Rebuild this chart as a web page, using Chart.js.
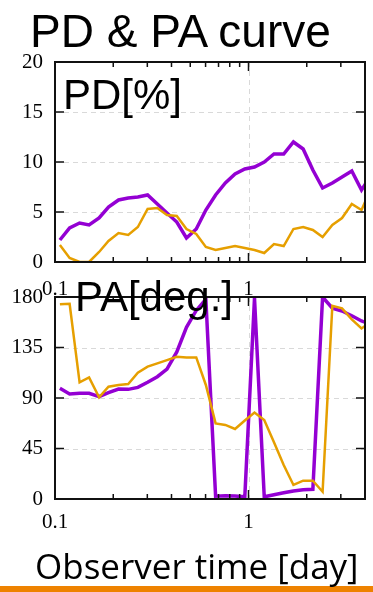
<!DOCTYPE html>
<html>
<head>
<meta charset="utf-8">
<script src="https://cdn.jsdelivr.net/npm/chart.js@4.4.0/dist/chart.umd.min.js"></script>
<style>
  html, body { margin: 0; padding: 0; background: #fff; }
  #lienzo { position: relative; width: 373px; height: 592px; overflow: hidden; }
  canvas { position: absolute; left: 0; }
  .texto { position: absolute; white-space: nowrap; line-height: 1; color: #000; z-index: 2; }
  #titulo { left: 30px; top: 4px; font: 46px "Liberation Sans", Arial, sans-serif; }
  #etiquetaPD { left: 63px; top: 71px; font: 42px "Liberation Sans", Arial, sans-serif; }
  #etiquetaPA { left: 75px; top: 273px; font: 42px "Liberation Sans", Arial, sans-serif; }
  #ejeX { left: 35px; top: 542px; font: 35px "Open Sans", sans-serif; }
  #barra { position: absolute; left: 0; top: 586px; width: 373px; height: 6px; background: #ee8200; }
</style>
</head>
<body>
<div id="lienzo">
  <div class="texto" id="titulo">PD &amp; PA curve</div>
  <canvas id="graficoPD" width="373" height="260" style="top:40px"></canvas>
  <canvas id="graficoPA" width="373" height="255" style="top:285px"></canvas>
  <div class="texto" id="etiquetaPD">PD[%]</div>
  <div class="texto" id="etiquetaPA">PA[deg.]</div>
  <div class="texto" id="ejeX">Observer time [day]</div>
  <div id="barra"></div>
</div>
<script>
// Tiempos de observación (días)
const dias = [0.106, 0.119, 0.134, 0.150, 0.169, 0.189, 0.213, 0.239, 0.268, 0.301,
              0.338, 0.379, 0.426, 0.478, 0.537, 0.602, 0.676, 0.759, 0.852, 0.957,
              1.074, 1.206, 1.354, 1.520, 1.707, 1.916, 2.151, 2.415, 2.712, 3.044,
              3.418, 3.837, 4.308];

// Grado de polarización [%]
const pdMorado = [2.2, 3.4, 3.9, 3.7, 4.4, 5.5, 6.2, 6.4, 6.5, 6.7,
                  5.8, 4.9, 4.0, 2.4, 3.3, 5.2, 6.7, 7.9, 8.8, 9.3,
                  9.5, 10.0, 10.8, 10.8, 12.0, 11.3, 9.2, 7.4, 7.9, 8.5,
                  9.1, 7.2, 8.7];
const pdNaranja = [1.7, 0.4, 0.0, 0.0, 1.0, 2.1, 2.9, 2.7, 3.5, 5.3,
                   5.4, 4.7, 4.6, 3.3, 2.8, 1.5, 1.2, 1.4, 1.6, 1.4,
                   1.2, 0.9, 1.8, 1.6, 3.3, 3.5, 3.2, 2.5, 3.7, 4.4,
                   5.8, 5.2, 7.4];

// Ángulo de polarización [grados]
const paMorado = [98.6, 93.6, 94.2, 94.2, 91.2, 94.7, 98.0, 97.7, 99.5, 104,
                  109, 115.8, 131, 153, 168, 178, 2.5, 3.0, 2.7, 2.0,
                  179, 2.0, 3.8, 5.5, 7.2, 8.2, 8.6, 180, 170, 167.5,
                  163.3, 158.6, 155.5];
const paNaranja = [173.5, 174, 104, 108.4, 90.6, 100, 101.6, 102.5, 112.5, 117.9,
                   120.9, 123.8, 126.8, 126.2, 126.2, 101.6, 67.4, 66, 62.4, 70,
                   77, 70.4, 50.6, 30.3, 12.5, 16.3, 16.3, 6.5, 172.2, 169.9,
                   160, 152, 158];

// Marcas de los ejes
const marcasX = [0.1, 0.2, 0.3, 0.4, 0.5, 0.6, 0.7, 0.8, 0.9, 1, 2, 3, 4];
const marcasPD = [0, 5, 10, 15, 20];
const marcasPA = [0, 45, 90, 135, 180];

const MORADO = '#9400d3';
const NARANJA = '#e69f00';

function esDecada(v) {
    const l = Math.log10(v);
    return Math.abs(l - Math.round(l)) < 1e-6;
}

// Plugin: rejilla punteada, marco negro y marcas hacia dentro (estilo gnuplot)
const marcoGnuplot = {
    id: 'marcoGnuplot',
    beforeDatasetsDraw(chart) {
        const { ctx, chartArea: a, scales } = chart;
        ctx.save();
        ctx.strokeStyle = '#d9d9d9';
        ctx.lineWidth = 1;
        ctx.setLineDash([5, 4]);
        scales.y.ticks.forEach(t => {
            if (t.value === scales.y.min || t.value === scales.y.max) return;
            const y = Math.round(scales.y.getPixelForValue(t.value)) + 0.5;
            ctx.beginPath(); ctx.moveTo(a.left, y); ctx.lineTo(a.right, y); ctx.stroke();
        });
        scales.x.ticks.forEach(t => {
            if (!esDecada(t.value) || t.value === scales.x.min) return;
            const x = Math.round(scales.x.getPixelForValue(t.value)) + 0.5;
            ctx.beginPath(); ctx.moveTo(x, a.top); ctx.lineTo(x, a.bottom); ctx.stroke();
        });
        ctx.restore();
    },
    afterDatasetsDraw(chart) {
        const { ctx, chartArea: a, scales } = chart;
        ctx.save();
        ctx.strokeStyle = '#111';
        ctx.lineWidth = 1.5;
        scales.x.ticks.forEach(t => {
            const x = scales.x.getPixelForValue(t.value);
            const largo = esDecada(t.value) ? 9 : 5;
            ctx.beginPath();
            ctx.moveTo(x, a.bottom); ctx.lineTo(x, a.bottom - largo);
            ctx.moveTo(x, a.top); ctx.lineTo(x, a.top + largo);
            ctx.stroke();
        });
        scales.y.ticks.forEach(t => {
            const y = scales.y.getPixelForValue(t.value);
            ctx.beginPath();
            ctx.moveTo(a.left, y); ctx.lineTo(a.left + 9, y);
            ctx.moveTo(a.right, y); ctx.lineTo(a.right - 9, y);
            ctx.stroke();
        });
        ctx.lineWidth = 2;
        ctx.strokeRect(a.left, a.top, a.right - a.left, a.bottom - a.top);
        ctx.restore();
    }
};

// Crea uno de los dos paneles
function crearPanel(id, morado, naranja, marcasY, maxY, arriba, altoX, pad) {
    const ctx = document.getElementById(id).getContext('2d');
    return new Chart(ctx, {
        type: 'line',
        data: {
            datasets: [
                {
                    data: dias.map((d, i) => ({ x: d, y: naranja[i] })),
                    borderColor: NARANJA, borderWidth: 2.5, pointRadius: 0, clip: 0, order: 0
                },
                {
                    data: dias.map((d, i) => ({ x: d, y: morado[i] })),
                    borderColor: MORADO, borderWidth: 3.5, pointRadius: 0, clip: 0, order: 1
                }
            ]
        },
        options: {
            responsive: false,
            animation: false,
            layout: { padding: { top: arriba, right: 8, left: 0, bottom: 0 } },
            plugins: { legend: { display: false }, tooltip: { enabled: false } },
            scales: {
                x: {
                    type: 'logarithmic', min: 0.1, max: 4,
                    afterBuildTicks: s => { s.ticks = marcasX.map(v => ({ value: v, major: esDecada(v) })); },
                    afterFit: s => { s.height = altoX; s.paddingLeft = 0; s.paddingRight = 0; },
                    grid: { display: false, drawTicks: false },
                    border: { display: false },
                    ticks: {
                        autoSkip: false, maxRotation: 0, padding: pad, color: '#000',
                        font: { family: '"Liberation Serif", serif', size: 21 },
                        callback: v => esDecada(v) ? String(v) : ''
                    }
                },
                y: {
                    min: 0, max: maxY,
                    afterBuildTicks: s => { s.ticks = marcasY.map(v => ({ value: v })); },
                    afterFit: s => { s.width = 55; s.paddingTop = 0; s.paddingBottom = 0; },
                    grid: { display: false, drawTicks: false },
                    border: { display: false },
                    ticks: {
                        padding: 12, color: '#000',
                        font: { family: '"Liberation Serif", serif', size: 21 }
                    }
                }
            }
        },
        plugins: [marcoGnuplot]
    });
}

crearPanel('graficoPD', pdMorado, pdNaranja, marcasPD, 20, 22, 38, 15);
crearPanel('graficoPA', paMorado, paNaranja, marcasPA, 180, 12, 41, 11);
</script>
</body>
</html>
